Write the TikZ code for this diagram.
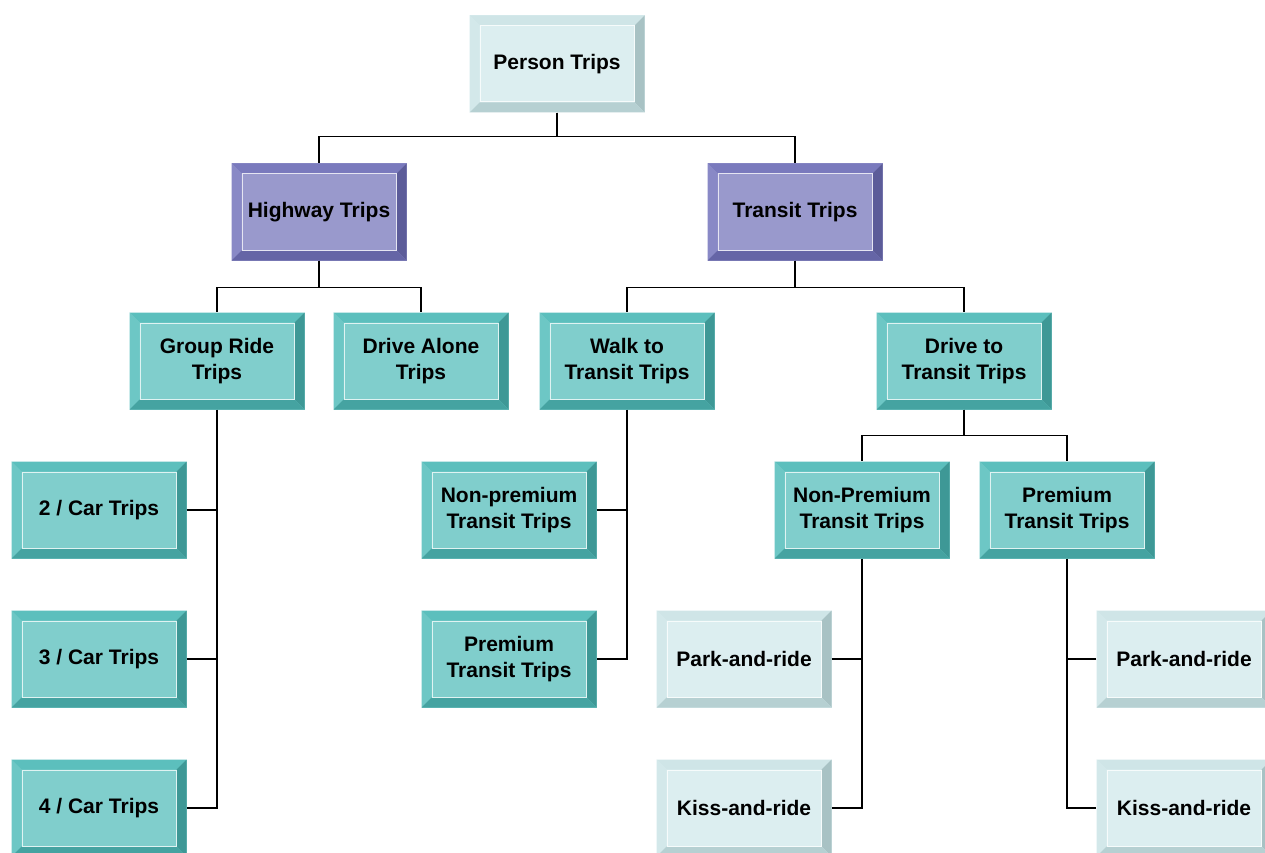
\documentclass[tikz,border=0pt]{standalone}
\usepackage{fontspec}
\setmainfont{Liberation Sans}

% face, top, left, right, bottom
\definecolor{paleface}{HTML}{DCEEF0}
\definecolor{paletop}{HTML}{CFE5E7}
\definecolor{paleleft}{HTML}{D3E8EA}
\definecolor{paleright}{HTML}{A8C2C4}
\definecolor{palebottom}{HTML}{B6D0D2}
\definecolor{violetface}{HTML}{9999CC}
\definecolor{violettop}{HTML}{7A7ABD}
\definecolor{violetleft}{HTML}{8989C6}
\definecolor{violetright}{HTML}{5C5C99}
\definecolor{violetbottom}{HTML}{6565A6}
\definecolor{tealface}{HTML}{80CECC}
\definecolor{tealtop}{HTML}{5CBFBD}
\definecolor{tealleft}{HTML}{6DC7C5}
\definecolor{tealright}{HTML}{3E9896}
\definecolor{tealbottom}{HTML}{45A3A1}

\tikzset{
  box/.style={rectangle, minimum width=175pt, minimum height=97pt, inner sep=0pt,
    align=center, text=black, font=\bfseries\fontsize{21}{26}\selectfont},
  bevel/.style n args={5}{box, fill=#1, path picture={
    \fill[#2] (path picture bounding box.north west) -- (path picture bounding box.north east)
      -- ([shift={(-10pt,-10pt)}]path picture bounding box.north east)
      -- ([shift={(10pt,-10pt)}]path picture bounding box.north west) -- cycle;
    \fill[#3] (path picture bounding box.north west) -- (path picture bounding box.south west)
      -- ([shift={(10pt,10pt)}]path picture bounding box.south west)
      -- ([shift={(10pt,-10pt)}]path picture bounding box.north west) -- cycle;
    \fill[#4] (path picture bounding box.north east) -- (path picture bounding box.south east)
      -- ([shift={(-10pt,10pt)}]path picture bounding box.south east)
      -- ([shift={(-10pt,-10pt)}]path picture bounding box.north east) -- cycle;
    \fill[#5] (path picture bounding box.south west) -- (path picture bounding box.south east)
      -- ([shift={(-10pt,10pt)}]path picture bounding box.south east)
      -- ([shift={(10pt,10pt)}]path picture bounding box.south west) -- cycle;
    \draw[white!75!#1, line width=1pt]
      ([shift={(10.5pt,-10.5pt)}]path picture bounding box.north west) rectangle
      ([shift={(-10.5pt,10.5pt)}]path picture bounding box.south east);
  }},
  palebox/.style={bevel={paleface}{paletop}{paleleft}{paleright}{palebottom}},
  violetbox/.style={bevel={violetface}{violettop}{violetleft}{violetright}{violetbottom}},
  tealbox/.style={bevel={tealface}{tealtop}{tealleft}{tealright}{tealbottom}},
  link/.style={draw=black, line width=1.4pt}
}

\begin{document}
\begin{tikzpicture}[x=1pt,y=-1pt]
\useasboundingbox (0,0) rectangle (1265,853);

% top levels
\node[palebox] (person) at (557,64) {Person Trips};
\node[violetbox] (highway) at (319,212) {Highway Trips};
\node[violetbox] (transit) at (795,212) {Transit Trips};

\node[tealbox] (group) at (217,361) {Group Ride\\Trips};
\node[tealbox] (alone) at (421,361) {Drive Alone\\Trips};
\node[tealbox] (walk) at (627,361) {Walk to\\Transit Trips};
\node[tealbox] (drive) at (964,361) {Drive to\\Transit Trips};

% car occupancy
\node[tealbox] (car2) at (99,510) {2 / Car Trips};
\node[tealbox] (car3) at (99,659) {3 / Car Trips};
\node[tealbox] (car4) at (99,808) {4 / Car Trips};

% walk access
\node[tealbox] (walknp) at (509,510) {Non-premium\\Transit Trips};
\node[tealbox] (walkpr) at (509,659) {Premium\\Transit Trips};

% drive access
\node[tealbox] (drivenp) at (862,510) {Non-Premium\\Transit Trips};
\node[tealbox] (drivepr) at (1067,510) {Premium\\Transit Trips};
\node[palebox] (park1) at (744,659) {Park-and-ride};
\node[palebox] (kiss1) at (744,808) {Kiss-and-ride};
\node[palebox] (park2) at (1184,659) {Park-and-ride};
\node[palebox] (kiss2) at (1184,808) {Kiss-and-ride};

% connectors
\draw[link] (person.south) -- ++(0,24) -| (highway.north);
\draw[link] (person.south) -- ++(0,24) -| (transit.north);
\draw[link] (highway.south) -- ++(0,27) -| (group.north);
\draw[link] (highway.south) -- ++(0,27) -| (alone.north);
\draw[link] (transit.south) -- ++(0,27) -| (walk.north);
\draw[link] (transit.south) -- ++(0,27) -| (drive.north);
\draw[link] (drive.south) -- ++(0,26) -| (drivenp.north);
\draw[link] (drive.south) -- ++(0,26) -| (drivepr.north);

\draw[link] (group.south) |- (car4.east);
\draw[link] (car2.east) -- (car2.east -| group.south);
\draw[link] (car3.east) -- (car3.east -| group.south);

\draw[link] (walk.south) |- (walkpr.east);
\draw[link] (walknp.east) -- (walknp.east -| walk.south);

\draw[link] (drivenp.south) |- (kiss1.east);
\draw[link] (park1.east) -- (park1.east -| drivenp.south);
\draw[link] (drivepr.south) |- (kiss2.west);
\draw[link] (park2.west) -- (park2.west -| drivepr.south);
\end{tikzpicture}
\end{document}
